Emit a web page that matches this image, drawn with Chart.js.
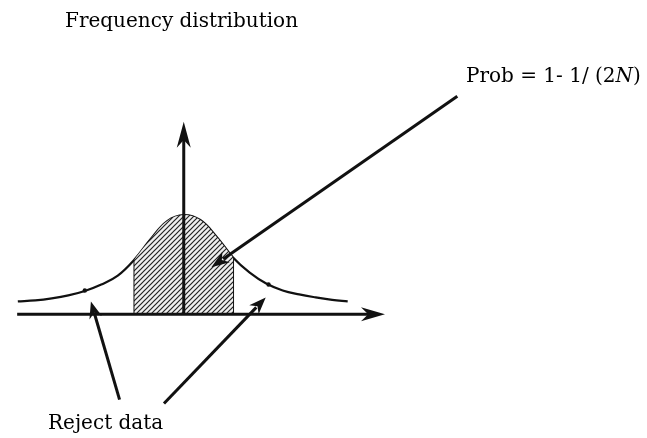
<!DOCTYPE html>
<html>
<head>
<meta charset="utf-8">
<script src="https://cdn.jsdelivr.net/npm/chart.js@4.4.0/dist/chart.umd.min.js"></script>
<style>
  html, body { margin: 0; padding: 0; background: #fff; }
  #wrap { width: 647px; height: 438px; position: relative; }
</style>
</head>
<body>
<div id="wrap"><canvas id="myChart"></canvas></div>
<script>
// bell curve (x in sigma-ish units, y relative frequency)
var curveX = [-5.03, -4.5, -4, -3.5, -3, -2.5, -2, -1.5, -1, -0.5, 0, 0.5, 1, 1.5, 2, 2.5, 3, 3.5, 4, 4.5, 4.97];
var curveY = [0.13, 0.14, 0.16, 0.19, 0.235, 0.30, 0.39, 0.55, 0.76, 0.94, 1.0, 0.95, 0.78, 0.57, 0.42, 0.31, 0.24, 0.20, 0.17, 0.145, 0.13];

// accepted band (hatched)
var acceptLow = -1.5;
var acceptHigh = 1.5;

// small marks on the tails
var rejectX = [-3.0, 2.57];
var rejectY = [0.24, 0.30];

// axes
var xAxisFrom = -5.05, xAxisTo = 6.1;
var yAxisTo = 1.94;

var titleText = "Frequency distribution";
var probText = "Prob = 1- 1/ (2";
var probVar = "N";
var rejectText = "Reject data";

var curve = [];
var band = [];
for (var i = 0; i < curveX.length; i++) {
    curve.push({x: curveX[i], y: curveY[i]});
    if (curveX[i] >= acceptLow && curveX[i] <= acceptHigh) band.push({x: curveX[i], y: curveY[i]});
}
var edges = [
    {x: acceptLow, y: 0}, {x: acceptLow, y: curveY[curveX.indexOf(acceptLow)]},
    {x: 0, y: null},
    {x: acceptHigh, y: curveY[curveX.indexOf(acceptHigh)]}, {x: acceptHigh, y: 0}
];
var marks = [];
for (var j = 0; j < rejectX.length; j++) marks.push({x: rejectX[j], y: rejectY[j]});

// hatch pattern
function hatch() {
    var c = document.createElement('canvas');
    c.width = 5; c.height = 5;
    var g = c.getContext('2d');
    g.fillStyle = '#efefef';
    g.fillRect(0, 0, 5, 5);
    g.strokeStyle = '#222';
    g.lineWidth = 1.2;
    g.beginPath();
    g.moveTo(-1, 6); g.lineTo(6, -1);
    g.moveTo(-1, 1); g.lineTo(1, -1);
    g.moveTo(4, 6); g.lineTo(6, 4);
    g.stroke();
    return g.createPattern(c, 'repeat');
}

function head(ctx, x1, y1, x2, y2, len, half) {
    var a = Math.atan2(y2 - y1, x2 - x1);
    var cs = Math.cos(a), sn = Math.sin(a);
    function p(l, w) { return [x2 - l * cs - w * sn, y2 - l * sn + w * cs]; }
    var b1 = p(len, half), b2 = p(len, -half), n = p(len * 0.7, 0);
    ctx.beginPath();
    ctx.moveTo(x2, y2);
    ctx.lineTo(b1[0], b1[1]);
    ctx.lineTo(n[0], n[1]);
    ctx.lineTo(b2[0], b2[1]);
    ctx.closePath();
    ctx.fill();
}

var decor = {
    id: 'decor',
    afterDatasetsDraw: function(chart) {
        var ctx = chart.ctx;
        var xs = chart.scales.x, ys = chart.scales.y;
        function X(v) { return xs.getPixelForValue(v); }
        function Y(v) { return ys.getPixelForValue(v); }
        ctx.save();
        ctx.strokeStyle = '#111';
        ctx.fillStyle = '#111';
        ctx.lineCap = 'butt';

        // axes
        ctx.lineWidth = 3;
        ctx.beginPath();
        ctx.moveTo(X(xAxisFrom), Y(0)); ctx.lineTo(X(xAxisTo) - 10, Y(0));
        ctx.moveTo(X(0), Y(0)); ctx.lineTo(X(0), Y(yAxisTo) + 10);
        ctx.stroke();
        head(ctx, X(xAxisFrom), Y(0), X(xAxisTo), Y(0), 24, 7);
        head(ctx, X(0), Y(0), X(0), Y(yAxisTo), 26, 7);

        // pointer arrows
        var arrows = [
            [8.293, 2.198, 0.838, 0.475, 18, 6.5],
            [-1.946, -0.861, -2.814, 0.129, 17, 6.5],
            [-0.599, -0.901, 2.485, 0.168, 17, 6.5]
        ];
        ctx.lineWidth = 3;
        arrows.forEach(function(a) {
            var x1 = X(a[0]), y1 = Y(a[1]), x2 = X(a[2]), y2 = Y(a[3]);
            var d = Math.hypot(x2 - x1, y2 - y1);
            var k = (d - a[4] * 0.8) / d;
            ctx.beginPath();
            ctx.moveTo(x1, y1);
            ctx.lineTo(x1 + (x2 - x1) * k, y1 + (y2 - y1) * k);
            ctx.stroke();
            head(ctx, x1, y1, x2, y2, a[4], a[5]);
        });

        // texts
        ctx.textBaseline = 'alphabetic';
        ctx.fillStyle = '#000';
        ctx.font = '20px "DejaVu Serif"';
        ctx.fillText(titleText, 65, 27);
        ctx.fillText(rejectText, 48, 429);
        var px = 466;
        ctx.fillText(probText, px, 82);
        px += ctx.measureText(probText).width;
        ctx.font = 'italic 20px "DejaVu Serif"';
        ctx.fillText(probVar, px, 82);
        px += ctx.measureText(probVar).width;
        ctx.font = '20px "DejaVu Serif"';
        ctx.fillText(")", px, 82);
        ctx.restore();
    }
};

var ctx = document.getElementById('myChart');
var chart = new Chart(ctx, {
    type: 'line',
    data: {
        datasets: [
            {
                data: band,
                borderWidth: 0,
                pointRadius: 0,
                fill: 'origin',
                backgroundColor: hatch(),
                tension: 0.4
            },
            {
                data: edges,
                borderColor: '#111',
                borderWidth: 1.6,
                pointRadius: 0,
                fill: false,
                spanGaps: false
            },
            {
                data: curve,
                borderColor: '#111',
                borderWidth: 2.2,
                pointRadius: 0,
                fill: false,
                tension: 0.4
            },
            {
                data: marks,
                showLine: false,
                pointRadius: 2.2,
                pointBackgroundColor: '#111',
                pointBorderWidth: 0
            }
        ]
    },
    options: {
        responsive: true,
        maintainAspectRatio: false,
        animation: false,
        layout: { padding: 0 },
        plugins: { legend: { display: false }, tooltip: { enabled: false }, title: { display: false } },
        scales: {
            x: { type: 'linear', display: false, min: -5.449, max: 13.922 },
            y: { type: 'linear', display: false, min: -1.2079, max: 3.1287 }
        }
    },
    plugins: [decor]
});
</script>
</body>
</html>
